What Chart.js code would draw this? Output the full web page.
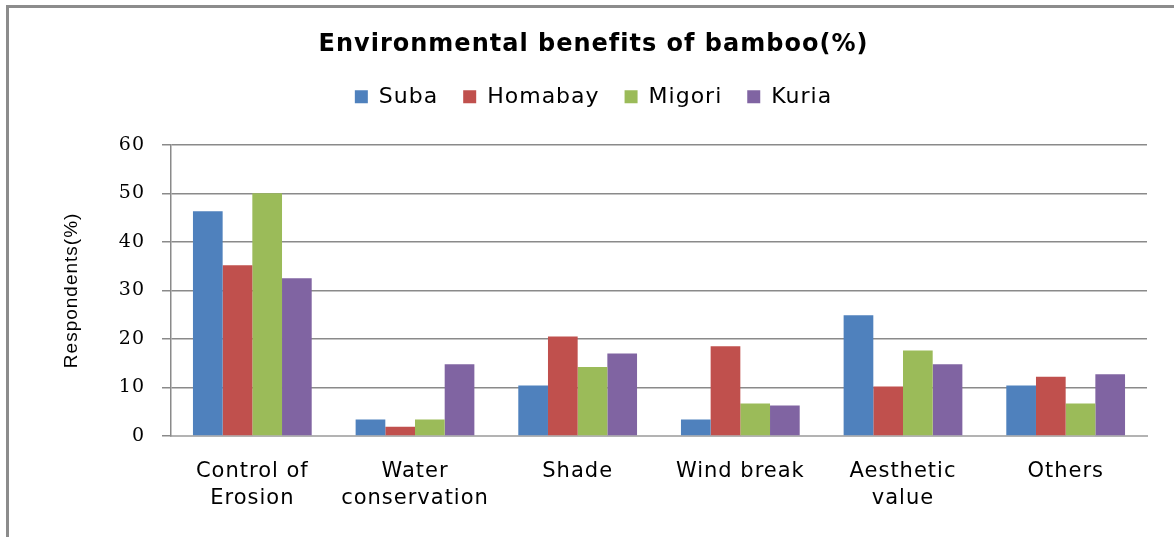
<!DOCTYPE html>
<html>
<head>
<meta charset="utf-8">
<script src="https://cdn.jsdelivr.net/npm/chart.js@4.4.1/dist/chart.umd.min.js"></script>
<style>
  html, body { margin: 0; padding: 0; background: #fff; }
  #wrap { position: relative; width: 1174px; height: 537px; overflow: hidden; }
  #frame { position: absolute; left: 6px; top: 5px; right: -10px; bottom: -10px;
           border-left: 3px solid #8c8c8c; border-top: 3px solid #8c8c8c; }
  #chart { position: absolute; left: 0; top: 0; }
</style>
</head>
<body>
<div id="wrap">
  <div id="frame"></div>
  <canvas id="chart" width="1174" height="537"></canvas>
</div>
<script>
// values
const categories = [
  ["Control of", "Erosion"],
  ["Water", "conservation"],
  ["Shade"],
  ["Wind break"],
  ["Aesthetic", "value"],
  ["Others"]
];
const seriesNames = ["Suba", "Homabay", "Migori", "Kuria"];
const suba    = [46.3, 3.4, 10.4, 3.4, 24.9, 10.4];
const homabay = [35.2, 1.9, 20.5, 18.5, 10.2, 12.2];
const migori  = [50.0, 3.4, 14.2, 6.7, 17.6, 6.7];
const kuria   = [32.5, 14.8, 17.0, 6.3, 14.8, 12.7];
const yTicks  = [0, 10, 20, 30, 40, 50, 60];

const colors = ["#4F81BD", "#C0504D", "#9BBB59", "#8064A2"];
const values = [suba, homabay, migori, kuria];

const datasets = seriesNames.map((name, i) => ({
  label: name,
  data: values[i],
  backgroundColor: colors[i],
  borderWidth: 0,
  categoryPercentage: 0.73,
  barPercentage: 1.0
}));

// the source picture is stretched sideways; a little letter spacing imitates that
const spacing = {
  id: "spacing",
  beforeInit(chart) { chart.ctx.letterSpacing = "1px"; },
  beforeUpdate(chart) { chart.ctx.letterSpacing = "1px"; },
  beforeDraw(chart) { chart.ctx.letterSpacing = "1px"; }
};

// extra room under the legend
const legendGap = {
  id: "legendGap",
  beforeInit(chart) {
    const fit = chart.legend.fit;
    chart.legend.fit = function () {
      fit.bind(chart.legend)();
      this.height += 27;
    };
  }
};

new Chart(document.getElementById("chart").getContext("2d"), {
  type: "bar",
  data: { labels: categories, datasets },
  plugins: [spacing, legendGap],
  options: {
    responsive: false,
    animation: false,
    layout: { padding: { left: 40, right: 27, top: 20, bottom: 11 } },
    plugins: {
      title: {
        display: true,
        text: "Environmental benefits of bamboo(%)",
        color: "#000",
        font: { family: "DejaVu Sans", size: 24, weight: "bold", lineHeight: 1.2 },
        padding: { top: 10, bottom: 2 }
      },
      legend: {
        position: "top",
        labels: {
          boxWidth: 13,
          boxHeight: 13,
          padding: 25,
          color: "#000",
          font: { family: "DejaVu Sans", size: 22 }
        }
      },
      tooltip: { enabled: false }
    },
    scales: {
      x: {
        grid: { display: false, drawTicks: false },
        border: { color: "#b3b3b3", width: 2 },
        ticks: {
          color: "#000",
          padding: 22,
          maxRotation: 0,
          autoSkip: false,
          font: { family: "DejaVu Sans", size: 21, lineHeight: 1.29 }
        },
        afterFit: (s) => { s.height = 90; }
      },
      y: {
        min: 0,
        max: 60,
        afterBuildTicks: (s) => { s.ticks = yTicks.map((v) => ({ value: v })); },
        grid: { color: "#8a8a8a", lineWidth: 1.5, tickLength: 9 },
        border: { color: "#8a8a8a", width: 1.5 },
        ticks: {
          color: "#000",
          padding: 17,
          font: { family: "DejaVu Serif", size: 19 }
        },
        title: {
          display: true,
          text: "Respondents(%)",
          color: "#000",
          padding: { top: 20, bottom: 0 },
          font: { family: "'Liberation Sans'", size: 19 }
        },
        afterFit: (s) => { s.width = 131; }
      }
    }
  }
});
</script>
</body>
</html>
